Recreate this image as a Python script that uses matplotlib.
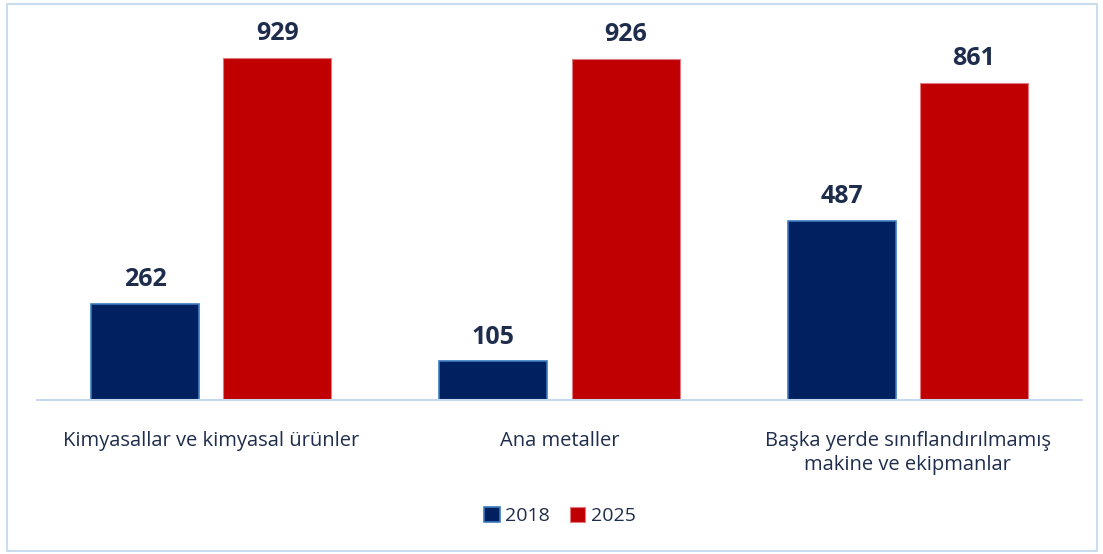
import numpy as np
from matplotlib import pyplot as plt
from matplotlib.patches import Rectangle

categories = ['Kimyasallar ve kimyasal ürünler', 'Ana metaller',
              'Başka yerde sınıflandırılmamış\nmakine ve ekipmanlar']
years = ['2018', '2025']
v2018 = [262, 105, 487]
v2025 = [929, 926, 861]

plt.rcParams['font.family'] = ['Open Sans', 'DejaVu Sans']
text_color = '#1F2D4D'

fig = plt.figure(figsize=(11.03, 5.54), dpi=100)
ax = fig.add_axes([37 / 1103, 154 / 554, 1045 / 1103, 368 / 554])

x = np.arange(len(categories))
w = 0.31
off = 0.19
b1 = ax.bar(x - off, v2018, w, color='#002060', edgecolor='#3A7BBF', lw=1.2, label=years[0])
b2 = ax.bar(x + off, v2025, w, color='#C00000', edgecolor='#E07A80', lw=0.8, label=years[1])

for bars in (b1, b2):
    for r in bars:
        h = r.get_height()
        ax.text(r.get_x() + r.get_width() / 2, h + 32, f'{h:.0f}', ha='center', va='bottom',
                fontsize=18, fontweight='bold', color=text_color)

ax.set_xlim(-0.5, 2.5)
ax.set_ylim(0, 1000)
ax.set_yticks([])
ax.set_xticks(x)
ax.set_xticklabels(categories, fontsize=14.5, color=text_color, linespacing=1.3)
ax.tick_params(axis='x', length=0, pad=22)
for s in ['top', 'right', 'left']:
    ax.spines[s].set_visible(False)
ax.spines['bottom'].set_color('#C5D8EE')
ax.spines['bottom'].set_linewidth(1.5)

leg = fig.legend(loc='center', bbox_to_anchor=(560 / 1103, 1 - 516 / 554), ncol=2, frameon=False,
                 fontsize=14, handlelength=0.8, handleheight=0.8, handletextpad=0.3, columnspacing=1.0)
for t in leg.get_texts():
    t.set_color(text_color)

fig.patches.append(Rectangle((7 / 1103, 3 / 554), 1090 / 1103, 547 / 554, transform=fig.transFigure,
                             fill=False, edgecolor='#C9DCF0', lw=1.5))

fig.savefig('out.png', dpi=100)
